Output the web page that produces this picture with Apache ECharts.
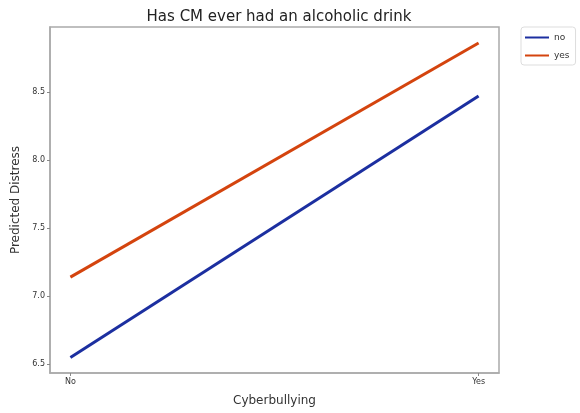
<!DOCTYPE html>
<html>
<head>
<meta charset="utf-8">
<script src="https://cdn.jsdelivr.net/npm/echarts@6/dist/echarts.min.js"></script>
<style>html,body{margin:0;padding:0;background:#fff}#c{width:580px;height:413px}</style>
</head>
<body>
<div id="c"></div>
<script>
const xPositions = [0, 1];
const xTickLabels = ['No', 'Yes'];
const yTicks = [6.5, 7.0, 7.5, 8.0, 8.5];
const seriesNames = ['no', 'yes'];
const noValues = [6.55, 8.47];
const yesValues = [7.14, 8.86];

const chart = echarts.init(document.getElementById('c'), null, {renderer: 'canvas'});
const font = 'DejaVu Sans';
const mk = (vals) => xPositions.map((x, i) => [x, vals[i]]);
chart.setOption({
  animation: false,
  title: {
    text: 'Has CM ever had an alcoholic drink',
    left: 274, top: 5, textAlign: 'center',
    textStyle: {fontFamily: font, fontSize: 15, fontWeight: 'normal', color: '#222'}
  },
  legend: {
    orient: 'vertical', left: 521, top: 27,
    data: seriesNames,
    icon: 'rect', itemWidth: 24, itemHeight: 2, itemGap: 9,
    borderColor: '#ddd', borderWidth: 1, borderRadius: 3, padding: [6, 6, 5, 4],
    textStyle: {fontFamily: font, fontSize: 9, color: '#333'}
  },
  grid: {left: 50, right: 81, top: 27, bottom: 40, show: true, borderColor: '#aaa', borderWidth: 1.5},
  xAxis: {
    type: 'value', min: -0.05, max: 1.05,
    name: 'Cyberbullying', nameLocation: 'middle', nameGap: 22,
    nameTextStyle: {fontFamily: font, fontSize: 12, color: '#333'},
    axisLine: {show: true, onZero: false, lineStyle: {color: '#aaa', width: 1.5}},
    axisTick: {show: true, customValues: xPositions, length: 3, lineStyle: {color: '#888'}},
    axisLabel: {customValues: xPositions, formatter: (v) => xTickLabels[xPositions.indexOf(Math.round(v))] || '',
      fontFamily: font, fontSize: 8, color: '#333', margin: 5},
    splitLine: {show: false}
  },
  yAxis: {
    type: 'value', min: 6.4355, max: 8.977,
    name: 'Predicted Distress', nameLocation: 'middle', nameGap: 28,
    nameTextStyle: {fontFamily: font, fontSize: 12, color: '#333'},
    axisLine: {show: true, onZero: false, lineStyle: {color: '#aaa', width: 1.5}},
    axisTick: {show: true, customValues: yTicks, length: 3, lineStyle: {color: '#888'}},
    axisLabel: {customValues: yTicks, formatter: (v) => v.toFixed(1),
      fontFamily: font, fontSize: 8, color: '#333', margin: 5},
    splitLine: {show: false}
  },
  series: [
    {name: 'no', type: 'line', data: mk(noValues), showSymbol: false, color: '#1c2fa0',
     lineStyle: {width: 3, color: '#1c2fa0'}},
    {name: 'yes', type: 'line', data: mk(yesValues), showSymbol: false, color: '#d4440e',
     lineStyle: {width: 3, color: '#d4440e'}}
  ]
});
</script>
</body>
</html>
